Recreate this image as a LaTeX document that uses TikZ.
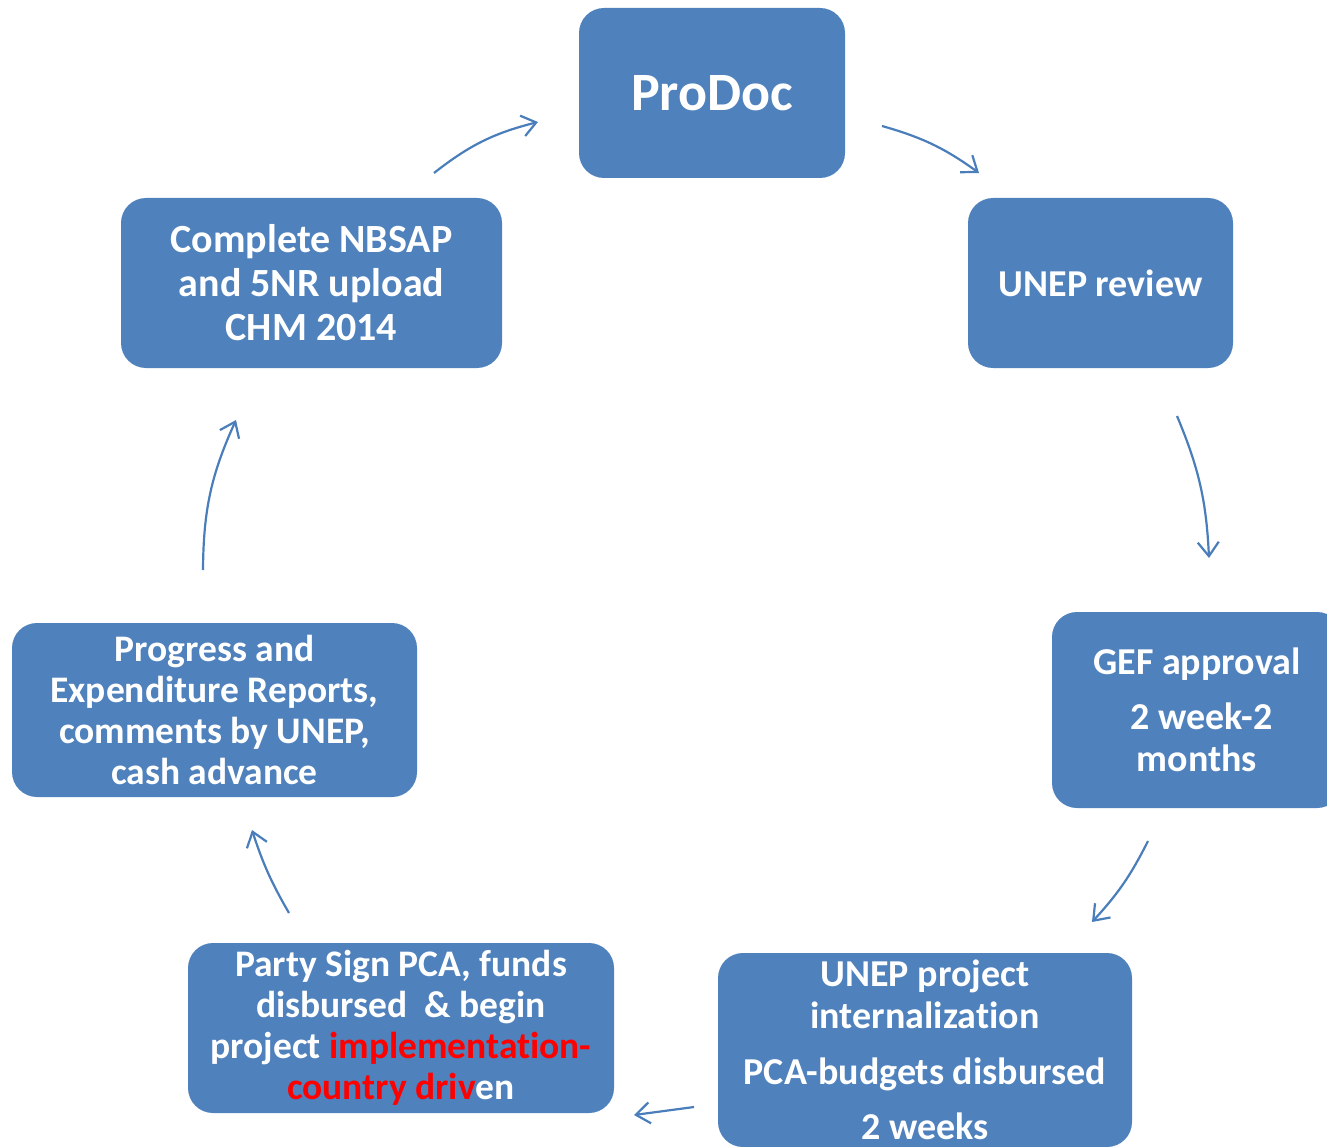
\documentclass[tikz,border=0pt]{standalone}
\usepackage{fontspec}
\setmainfont{Carlito}[Ligatures=NoCommon]
\usetikzlibrary{arrows.meta}
\definecolor{boxblue}{HTML}{4F81BD}
\definecolor{arrowblue}{HTML}{4A7EBB}
\definecolor{hotred}{HTML}{FF0000}
\tikzset{
  stage/.style={fill=boxblue, rounded corners=25pt, text=white, align=center,
    font=\bfseries, inner sep=4pt},
  flow/.style={draw=arrowblue, line width=2.2pt,
    -{Straight Barb[length=14pt, width=21pt, line width=2.2pt]}}
}
\def\bodyfont{\fontsize{38}{42}\selectfont}
\def\smallbody{\fontsize{37.5}{41}\selectfont}

\begin{document}
\begin{tikzpicture}[x=1pt, y=-1pt]
      \useasboundingbox (0,0) rectangle (1327,1147);
      \clip (0,0) rectangle (1327,1147);

      % Boxes
      \begin{scope}
        % ProDoc
        \node[stage, minimum width=266pt, minimum height=170pt,
          font=\bfseries\fontsize{54}{60}\selectfont] (prodoc) at (712,93) {ProDoc};

        % UNEP review
        \node[stage, minimum width=265pt, minimum height=170pt, font=\bfseries\bodyfont]
          (review) at (1100.5,283) {UNEP review};

        % GEF approval
        \node[stage, minimum width=290pt, minimum height=196pt, font=\bfseries\bodyfont]
          (gef) at (1197,710) {GEF approval\\[13pt] \ 2 week-2\\ months};

        % UNEP internalization
        \node[stage, minimum width=414pt, minimum height=194pt, font=\bfseries\bodyfont]
          (intern) at (925,1050) {UNEP project\\ internalization\\[14pt]
            PCA-budgets disbursed\\[13pt] 2 weeks};

        % Party signs
        \node[stage, minimum width=426pt, minimum height=170pt, font=\bfseries\smallbody]
          (party) at (401,1028) {Party Sign PCA, funds\\ disbursed \ \& begin\\
            project \textcolor{hotred}{implementation-}\\
            \textcolor{hotred}{country driv}en};

        % Reports
        \node[stage, minimum width=405pt, minimum height=174pt, font=\bfseries\smallbody]
          (reports) at (214.5,710) {Progress and\\ Expenditure Reports,\\
            comments by UNEP,\\ cash advance};

        % NBSAP
        \node[stage, minimum width=381pt, minimum height=170pt,
          font=\bfseries\fontsize{40}{44}\selectfont]
          (nbsap) at (311.5,283) {Complete NBSAP\\ and 5NR upload\\ CHM 2014};
      \end{scope}

      % Arrow ends
      \coordinate (nbsap-out) at (434,173);
      \coordinate (prodoc-in) at (538,122);
      \coordinate (prodoc-out) at (882,126);
      \coordinate (review-in) at (979,173);
      \coordinate (review-out) at (1177,416);
      \coordinate (gef-in) at (1209,558);
      \coordinate (gef-out) at (1148,841);
      \coordinate (intern-in) at (1092,922);
      \coordinate (intern-out) at (694,1107);
      \coordinate (party-in) at (634,1115);
      \coordinate (party-out) at (289,913);
      \coordinate (reports-in) at (252,830);
      \coordinate (reports-out) at (203,570);
      \coordinate (nbsap-in) at (236,420);

      % Cycle
      \draw[flow] (nbsap-out) to[bend left=12] (prodoc-in);
      \draw[flow] (prodoc-out) to[bend left=10] (review-in);
      \draw[flow] (review-out) to[bend left=10] (gef-in);
      \draw[flow] (gef-out) to[bend left=8] (intern-in);
      \draw[flow] (intern-out) -- (party-in);
      \draw[flow] (party-out) to[bend left=6] (reports-in);
      \draw[flow] (reports-out) to[bend left=12] (nbsap-in);

    \end{tikzpicture}
\end{document}
